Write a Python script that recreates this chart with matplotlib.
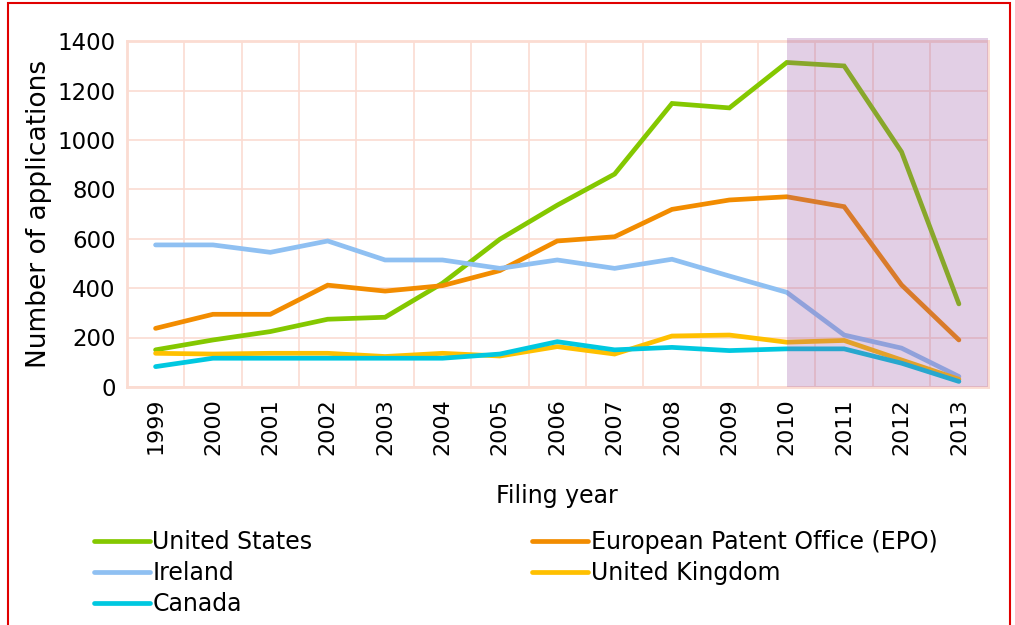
import numpy as np
import matplotlib
matplotlib.use('Agg')
import matplotlib.pyplot as plt
from matplotlib.patches import Rectangle

years = [str(y) for y in range(1999, 2014)]
us = [150, 190, 224, 274, 282, 420, 598, 736, 862, 1148, 1130, 1314, 1300, 952, 336]
epo = [237, 294, 294, 412, 388, 410, 471, 591, 608, 719, 757, 770, 730, 413, 190]
ireland = [575, 575, 545, 591, 514, 514, 480, 514, 480, 517, 449, 383, 210, 157, 42]
uk = [136, 133, 136, 136, 123, 136, 125, 163, 133, 206, 210, 181, 188, 109, 31]
canada = [82, 116, 116, 116, 116, 116, 133, 183, 150, 160, 147, 154, 154, 96, 22]

series = [('United States', us, '#84C800'),
          ('European Patent Office (EPO)', epo, '#F28C00'),
          ('Ireland', ireland, '#8FC0F2'),
          ('United Kingdom', uk, '#FFC000'),
          ('Canada', canada, '#00C8E0')]

plt.rcParams['font.family'] = ['DejaVu Sans']
grid_col = '#FBDCD2'

fig = plt.figure(figsize=(10.15, 6.25), dpi=100)
ax = fig.add_axes([0.125, 0.381, 0.848, 0.553])

x = np.arange(len(years))
lines = {}
for name, vals, col in series:
    ln, = ax.plot(x, vals, color=col, lw=3.4, solid_capstyle='round',
                  solid_joinstyle='miter', label=name, zorder=3)
    lines[name] = ln

# shaded forecast region
ax.axvspan(11, 14.5, ymin=0, ymax=1.01, color='#9650A0', alpha=0.27,
           lw=0, zorder=4, clip_on=False)

ax.set_xlim(-0.5, 14.5)
ax.set_ylim(0, 1400)
ax.set_yticks(range(0, 1401, 200))
ax.set_xticks(x)
ax.set_xticklabels(years, rotation=90, fontsize=16)
ax.tick_params(axis='y', labelsize=16.5, length=0, pad=8)
ax.tick_params(axis='x', length=0, pad=8)
ax.set_xticks(np.arange(-0.5, 15, 1), minor=True)
ax.tick_params(which='minor', length=0)
ax.grid(True, which='major', axis='y', color=grid_col, lw=1.2, zorder=1)
ax.grid(True, which='minor', axis='x', color=grid_col, lw=1.2, zorder=1)
for s in ax.spines.values():
    s.set_color(grid_col)
    s.set_linewidth(2)

ax.set_ylabel('Number of applications', fontsize=19, labelpad=4)
ax.set_xlabel('Filing year', fontsize=17, labelpad=21)

order = ['United States', 'Ireland', 'Canada',
         'European Patent Office (EPO)', 'United Kingdom']
fig.legend([lines[n] for n in order], order, ncol=2, loc='upper left',
           bbox_to_anchor=(0.083, 0.167), frameon=False, fontsize=17,
           handlelength=2.37, handletextpad=0.12, columnspacing=9.3,
           labelspacing=0.3, borderaxespad=0)

# red frame around figure
fig.patches.append(Rectangle((8 / 1015, -0.1), 1002 / 1015, 1.1 - 3 / 625,
                             transform=fig.transFigure, fill=False,
                             edgecolor='#E00000', lw=1.5))

fig.savefig('out.png', dpi=100)
